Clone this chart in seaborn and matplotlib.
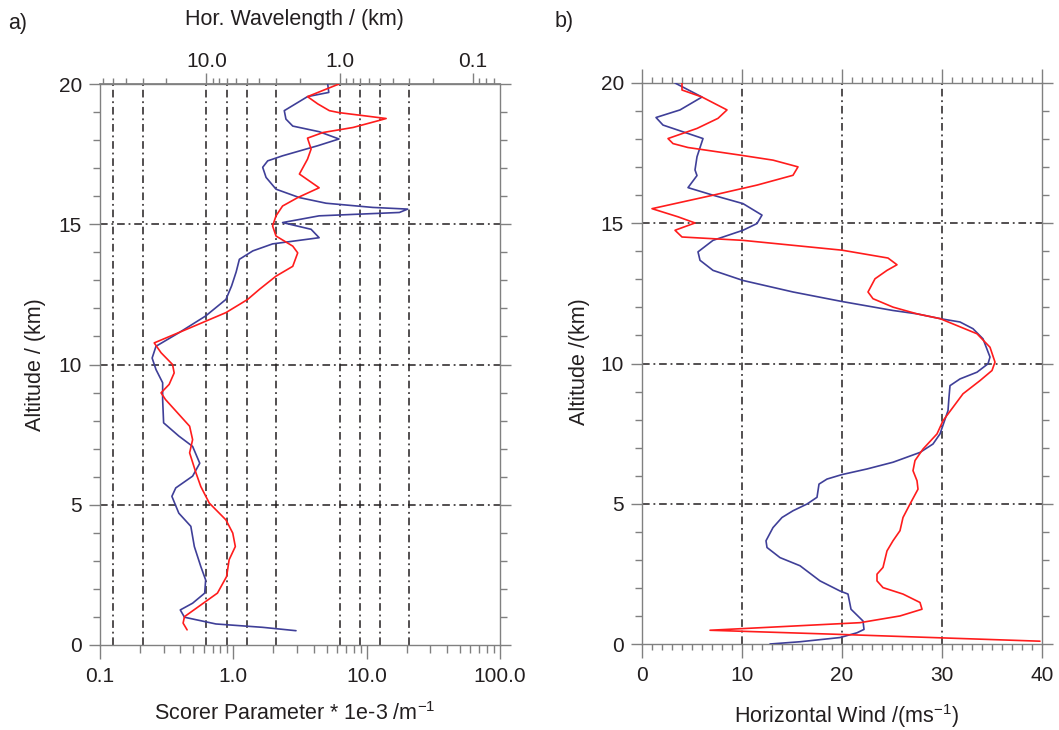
import numpy as np
import pandas as pd
import seaborn as sns
import matplotlib
matplotlib.use("Agg")
import matplotlib.pyplot as plt
from matplotlib.ticker import FixedLocator, MultipleLocator, LogLocator, FuncFormatter, NullFormatter

# ---------------- data ----------------
# Panel a: Scorer parameter (1e-3 /m) vs altitude (km)
blue_a_alt = [20.0, 19.7, 19.55, 19.05, 18.75, 18.5, 18.3, 18.04, 17.8, 17.44, 17.26, 17.03, 16.67,
              16.25, 15.95, 15.75, 15.6, 15.54, 15.42, 15.3, 15.06, 14.82, 14.52, 14.3, 14.05, 13.75,
              13.3, 12.8, 12.32, 11.73, 11.13, 10.65, 10.23, 9.82, 9.35, 8.75, 7.92, 7.45, 7.08, 6.48,
              6.02, 5.6, 5.3, 4.7, 4.23, 3.51, 2.8, 2.32, 1.85, 1.49, 1.25, 0.99, 0.75, 0.63, 0.51]
blue_a_scorer = [5.1, 5.2, 3.6, 2.41, 2.48, 2.79, 4.4, 6.2, 4.3, 2.34, 1.81, 1.66, 1.76,
                 2.09, 3.13, 4.96, 11.1, 20.3, 17.6, 4.4, 2.34, 3.83, 4.4, 1.97, 1.4, 1.11,
                 1.05, 0.97, 0.88, 0.62, 0.39, 0.263, 0.246, 0.263, 0.295, 0.295, 0.30, 0.39, 0.495, 0.56,
                 0.495, 0.37, 0.346, 0.39, 0.48, 0.51, 0.57, 0.62, 0.61, 0.495, 0.40, 0.43, 0.74, 1.66, 2.95]

red_a_alt = [20.0, 19.55, 19.29, 19.05, 18.98, 18.77, 18.7, 18.45, 18.27, 18.07, 17.68, 17.32, 16.79,
             16.3, 15.95, 15.65, 15.3, 14.94, 14.58, 14.22, 13.98, 13.5, 13.15, 12.68, 12.32, 12.14,
             11.85, 11.3, 10.77, 10.42, 10.0, 9.7, 9.29, 8.99, 8.75, 7.8, 7.32, 6.85, 6.13, 5.65, 5.06,
             4.46, 3.99, 3.51, 3.04, 2.44, 1.85, 1.55, 1.01, 0.78, 0.54]
red_a_scorer = [6.2, 3.6, 4.3, 5.25, 6.2, 14.0, 12.4, 7.9, 4.7, 3.6, 3.83, 3.6, 3.13,
                4.4, 3.04, 2.34, 2.09, 1.97, 2.09, 2.79, 3.04, 2.79, 2.09, 1.57, 1.28, 1.11,
                0.88, 0.47, 0.255, 0.287, 0.35, 0.36, 0.33, 0.287, 0.31, 0.47, 0.495, 0.47, 0.525, 0.57, 0.66,
                0.88, 0.99, 1.035, 0.93, 0.89, 0.76, 0.62, 0.43, 0.42, 0.45]

# Panel b: horizontal wind (m/s) vs altitude (km)
blue_b_alt = [20.0, 19.5, 19.04, 18.77, 18.5, 18.02, 17.37, 16.9, 16.7, 16.27, 16.0, 15.7, 15.29,
              14.99, 14.75, 14.39, 13.98, 13.68, 13.32, 12.96, 12.55, 12.21, 11.89, 11.77, 11.6, 11.48,
              11.24, 10.88, 10.23, 9.99, 9.69, 9.45, 9.21, 8.8, 8.32, 7.49, 7.13, 6.83, 6.48, 6.24, 6.04,
              5.88, 5.7, 5.23, 4.99, 4.75, 4.51, 4.15, 3.68, 3.44, 3.08, 2.79, 2.25, 1.89, 1.78, 1.24,
              0.82, 0.52, 0.4, 0.23, 0.08, 0.0]
blue_b_wind = [3.3, 6.0, 3.8, 1.4, 2.1, 6.1, 5.5, 5.3, 5.5, 4.6, 7.1, 10.1, 12.0,
               11.5, 10.1, 7.1, 5.6, 5.8, 7.1, 10.1, 15.1, 20.0, 25.1, 27.5, 29.8, 31.8,
               33.1, 34.1, 34.8, 34.6, 33.5, 31.8, 30.8, 30.7, 30.6, 29.8, 29.1, 27.8, 25.1, 22.5, 20.0,
               18.5, 17.7, 17.5, 16.5, 15.1, 14.0, 13.1, 12.4, 12.5, 13.8, 15.8, 17.8, 19.8, 20.6, 20.9,
               22.1, 22.2, 21.5, 19.8, 15.8, 12.8]

red_b_alt = [20.0, 19.75, 19.5, 19.04, 18.74, 18.38, 18.02, 17.84, 17.7, 17.43, 17.25, 17.01, 16.71,
             16.36, 16.0, 15.52, 15.23, 15.01, 14.75, 14.51, 14.39, 14.04, 13.76, 13.52, 13.32, 13.02,
             12.55, 12.31, 12.01, 11.77, 11.6, 11.06, 10.58, 10.05, 9.75, 9.39, 8.92, 8.44, 7.96, 7.49,
             6.95, 6.54, 6.18, 5.82, 5.52, 4.99, 4.51, 4.04, 3.68, 3.32, 2.73, 2.49, 2.25, 2.01, 1.78,
             1.48, 1.24, 1.0, 0.76, 0.49, 0.35, 0.1]
red_b_wind = [4.0, 4.0, 6.0, 8.5, 7.6, 5.5, 2.6, 3.1, 4.6, 9.8, 13.1, 15.6, 15.1,
              11.5, 7.1, 1.0, 3.6, 5.3, 3.3, 4.0, 10.1, 20.0, 24.6, 25.5, 24.5, 23.3,
              22.6, 23.1, 25.1, 27.5, 29.8, 33.5, 34.8, 35.3, 35.0, 33.8, 32.1, 31.1, 30.1, 29.5,
              28.1, 27.3, 27.1, 27.5, 27.6, 26.8, 26.1, 25.8, 25.1, 24.5, 24.1, 23.5, 23.5, 24.1, 26.1,
              27.8, 28.0, 25.8, 21.8, 6.8, 19.1, 39.8]

grid_alts = [5, 10, 15]
grid_wavelengths_km = [50, 30, 10, 7, 5, 3, 1, 0.7, 0.5, 0.3]
grid_wind = [10, 20, 30]
top_wavelength_ticks = [10, 1, 0.1]
bottom_scorer_ticks = [0.1, 1, 10, 100]

# ---------------- style ----------------
sns.set_theme(style="white")
plt.rcParams["font.family"] = ["Liberation Sans", "DejaVu Sans"]
plt.rcParams["mathtext.fontset"] = "custom"
plt.rcParams["mathtext.rm"] = "Liberation Sans"
plt.rcParams["mathtext.it"] = "Liberation Sans"

TXT = "#231f20"
SPINE = "#808080"
BLUE = "#3f3f98"
RED = "#ff1c1c"
LW = 1.2
GRID_LS = (0, (5, 2.5, 1.2, 2.5))
TICK_FS = 15
LAB_FS = 15.5

W, H = 1059, 730
fig = plt.figure(figsize=(W / 100, H / 100), dpi=100)


def box(l, t, r, b):
    return [l / W, 1 - b / H, (r - l) / W, (b - t) / H]


ax1 = fig.add_axes(box(100, 84, 500, 645))
ax2 = fig.add_axes(box(642, 83, 1042, 644))

for ax in (ax1, ax2):
    for s in ax.spines.values():
        s.set_color(SPINE)
        s.set_linewidth(1.0)
    ax.set_facecolor("white")

# ---------- panel a ----------
ax1.set_xscale("log")
ax1.set_xlim(0.1, 100)
ax1.set_ylim(0, 20)

for lam in grid_wavelengths_km:
    ax1.axvline(2 * np.pi / lam, color=TXT, lw=1.1, ls=GRID_LS, zorder=1)
for a in grid_alts:
    ax1.axhline(a, color=TXT, lw=1.1, ls=GRID_LS, zorder=1)

sns.lineplot(x=blue_a_scorer, y=blue_a_alt, sort=False, estimator=None, color=BLUE, lw=LW,
             ax=ax1, legend=False, zorder=3)
sns.lineplot(x=red_a_scorer, y=red_a_alt, sort=False, estimator=None, color=RED, lw=LW,
             ax=ax1, legend=False, zorder=4)

ax1.xaxis.set_major_locator(FixedLocator(bottom_scorer_ticks))
ax1.xaxis.set_major_formatter(FuncFormatter(lambda v, p: f"{v:.1f}"))
ax1.xaxis.set_minor_locator(LogLocator(base=10, subs=np.arange(2, 10)))
ax1.xaxis.set_minor_formatter(NullFormatter())
ax1.yaxis.set_major_locator(MultipleLocator(5))
ax1.yaxis.set_minor_locator(MultipleLocator(1))
ax1.set_xlabel("")
ax1.set_ylabel("")

ax1.tick_params(axis="x", which="both", direction="out", bottom=True, top=False, color=SPINE,
                labelcolor=TXT, labelsize=TICK_FS, pad=6)
ax1.tick_params(axis="x", which="major", length=10, width=1)
ax1.tick_params(axis="x", which="minor", length=6, width=1)
ax1.tick_params(axis="y", which="both", direction="out", left=True, right=True, color=SPINE,
                labelcolor=TXT, labelsize=TICK_FS, pad=5)
ax1.tick_params(axis="y", which="major", length=8, width=1)
ax1.tick_params(axis="y", which="minor", length=5, width=1)


def k_to_lambda(x):
    x = np.asarray(x, dtype=float)
    with np.errstate(divide="ignore", invalid="ignore"):
        return 2 * np.pi / np.where(x <= 0, 1e-12, x)


secax = ax1.secondary_xaxis("top", functions=(k_to_lambda, k_to_lambda))
secax.xaxis.set_major_locator(FixedLocator(top_wavelength_ticks))
secax.xaxis.set_major_formatter(FuncFormatter(lambda v, p: f"{v:.1f}"))
secax.xaxis.set_minor_locator(LogLocator(base=10, subs=np.arange(2, 10)))
secax.xaxis.set_minor_formatter(NullFormatter())
secax.tick_params(axis="x", which="both", direction="out", color=SPINE, labelcolor=TXT,
                  labelsize=TICK_FS, pad=1)
secax.tick_params(axis="x", which="major", length=8, width=1)
secax.tick_params(axis="x", which="minor", length=4, width=1)
secax.spines["top"].set_color(SPINE)

# ---------- panel b ----------
ax2.set_xlim(0, 40)
ax2.set_ylim(0, 20)
for u in grid_wind:
    ax2.axvline(u, color=TXT, lw=1.1, ls=GRID_LS, zorder=1)
for a in grid_alts:
    ax2.axhline(a, color=TXT, lw=1.1, ls=GRID_LS, zorder=1)

sns.lineplot(x=blue_b_wind, y=blue_b_alt, sort=False, estimator=None, color=BLUE, lw=LW,
             ax=ax2, legend=False, zorder=3)
sns.lineplot(x=red_b_wind, y=red_b_alt, sort=False, estimator=None, color=RED, lw=LW,
             ax=ax2, legend=False, zorder=4)

ax2.xaxis.set_major_locator(MultipleLocator(10))
ax2.xaxis.set_minor_locator(MultipleLocator(1))
ax2.yaxis.set_major_locator(MultipleLocator(5))
ax2.yaxis.set_minor_locator(MultipleLocator(1))
ax2.set_xlabel("")
ax2.set_ylabel("")
ax2.tick_params(axis="x", which="both", direction="out", bottom=True, top=True, color=SPINE,
                labelcolor=TXT, labelsize=TICK_FS, pad=6)
ax2.tick_params(axis="x", which="major", length=10, width=1)
ax2.tick_params(axis="x", which="minor", length=4, width=1)
ax2.tick_params(axis="y", which="both", direction="out", left=True, right=True, color=SPINE,
                labelcolor=TXT, labelsize=TICK_FS, pad=5)
ax2.tick_params(axis="y", which="major", length=8, width=1)
ax2.tick_params(axis="y", which="minor", length=5, width=1)

# ---------- texts ----------
def ftext(x, y, s, **kw):
    fig.text(x / W, 1 - y / H, s, color=TXT, ha=kw.pop("ha", "center"), va=kw.pop("va", "center"), **kw)


ftext(8, 24, "a)", ha="left", fontsize=LAB_FS)
ftext(555, 22, "b)", ha="left", fontsize=LAB_FS)
ftext(294, 19, "Hor. Wavelength / (km)", fontsize=LAB_FS)
ftext(295, 714, r"Scorer Parameter * 1e-3 /m$^{-1}$", fontsize=LAB_FS)
ftext(847, 716, r"Horizontal Wind /(ms$^{-1}$)", fontsize=LAB_FS)
ftext(36, 365, "Altitude / (km)", rotation=90, fontsize=LAB_FS)
ftext(579, 362, "Altitude /(km)", rotation=90, fontsize=LAB_FS)

fig.savefig("out.png", dpi=100, facecolor="white")
